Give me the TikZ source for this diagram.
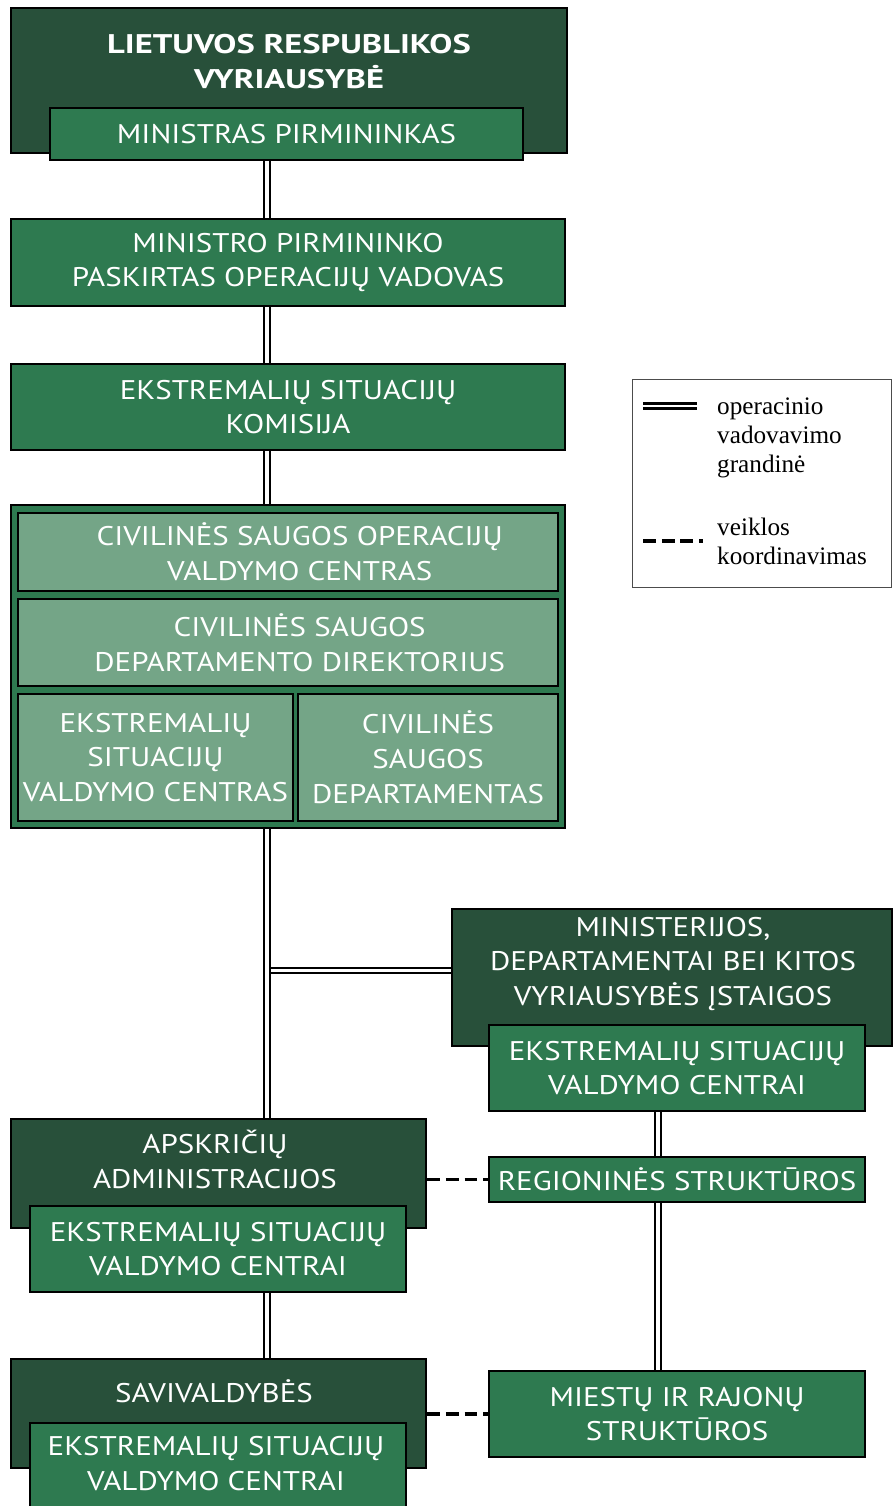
\documentclass[tikz,border=0pt]{standalone}
\usepackage{fontspec}
\setmainfont{PT Sans}[FakeStretch=1.15, BoldFeatures={FakeStretch=1.28}]
\newfontfamily\legendserif{Liberation Serif}
\usetikzlibrary{positioning, calc}
\definecolor{ltdark}{RGB}{40,80,58}
\definecolor{ltgreen}{RGB}{46,122,80}
\definecolor{ltpale}{RGB}{116,165,135}
\newcommand{\orgfont}{\fontsize{23}{29.8}\selectfont}
\newcommand{\legfont}{\fontsize{21.5}{24.6}\selectfont}
\tikzset{
  %% ---- boxes ----
  wh/.style 2 args = {minimum width=#1*0.03cm, minimum height=#2*0.03cm},
  darkbox/.style  = {rectangle, draw=black, line width=1.8pt, fill=ltdark,
                     anchor=north west, inner sep=0pt},
  greenbox/.style = {rectangle, draw=black, line width=1.8pt, fill=ltgreen,
                     anchor=north west, inner sep=0pt, text=white,
                     align=center, font=\orgfont},
  palebox/.style  = {rectangle, draw=black, line width=1.8pt, fill=ltpale,
                     anchor=north west, inner sep=0pt, text=white,
                     align=center, font=\orgfont},
  boxtext/.style  = {text=white, align=center, inner sep=0pt, font=\orgfont},
  legendtext/.style = {anchor=west, align=left, inner sep=0pt, font=\legfont\legendserif},
  %% ---- lines ----
  chain/.style = {draw=black, line width=1.9pt, double=white, double distance=2.6pt},
  coord/.style = {draw=black, line width=2.8pt, dash pattern=on 11pt off 5pt},
}
\begin{document}
\begin{tikzpicture}[x=0.03cm, y=-0.03cm]
\useasboundingbox (0,0) rectangle (892,1506);
\coordinate (trunk) at (267,0);
\coordinate (branch) at (658,0);
% government
\node[darkbox, wh={556}{145}] (gov) at (10,7) {};
\node[boxtext, font=\orgfont\bfseries] (govtxt) at (289,61.5) {LIETUVOS RESPUBLIKOS\\VYRIAUSYBĖ};
\node[greenbox, wh={473}{52}] (pm) at (49,107) {MINISTRAS PIRMININKAS};
\node[greenbox, wh={554}{87}] (opvad) at (10,218) {MINISTRO PIRMININKO\\PASKIRTAS OPERACIJŲ VADOVAS};
\node[greenbox, wh={554}{86}] (esk) at (10,363) {EKSTREMALIŲ SITUACIJŲ\\KOMISIJA};
% civil protection block
\node[greenbox, wh={554}{323}] (csd) at (10,504) {};
\node[palebox, wh={540}{78}] (csovc) at (17,512) {\hspace*{0.7cm}CIVILINĖS SAUGOS OPERACIJŲ\\\hspace*{0.7cm}VALDYMO CENTRAS};
\node[palebox, wh={540}{87}] (csdir) at (17,598) {\hspace*{0.7cm}CIVILINĖS SAUGOS\\\hspace*{0.7cm}DEPARTAMENTO DIREKTORIUS};
\node[palebox, wh={275}{127}] (esvc) at (17,693) {EKSTREMALIŲ\\SITUACIJŲ\\VALDYMO CENTRAS};
\node[palebox, wh={260}{127}] (csdep) at (297,693) {CIVILINĖS\\SAUGOS\\DEPARTAMENTAS};
% ministries
\node[darkbox, wh={440}{137}] (min) at (451,908) {};
\node[boxtext] (mintxt) at (673,964) {MINISTERIJOS,\\DEPARTAMENTAI BEI KITOS\\VYRIAUSYBĖS ĮSTAIGOS};
\node[greenbox, wh={376}{86}] (minvc) at (488,1024) {EKSTREMALIŲ SITUACIJŲ\\VALDYMO CENTRAI};
\node[greenbox, wh={376}{45}] (reg) at (488,1156) {REGIONINĖS STRUKTŪROS};
\node[greenbox, wh={376}{86}] (mr) at (488,1370) {MIESTŲ IR RAJONŲ\\STRUKTŪROS};
% counties and municipalities
\node[darkbox, wh={415}{109}] (aps) at (10,1118) {};
\node[boxtext] (apstxt) at (215,1159.5) {APSKRIČIŲ\\ADMINISTRACIJOS};
\node[greenbox, wh={376}{86}] (apsvc) at (29,1205) {EKSTREMALIŲ SITUACIJŲ\\VALDYMO CENTRAI};
\node[darkbox, wh={415}{109}] (sav) at (10,1358) {};
\node[boxtext] (savtxt) at (214,1391) {SAVIVALDYBĖS};
\node[greenbox, wh={376}{100}] (savvc) at (29,1422) {};
\node[boxtext] (savvctxt) at (216,1463.5) {EKSTREMALIŲ SITUACIJŲ\\VALDYMO CENTRAI};
% legend
\node[rectangle, draw=black!70, line width=1.2pt, fill=white, anchor=north west,
      wh={259}{208}] (legend) at (632,379) {};
\coordinate (chainA) at (643,406);
\coordinate (chainB) at (697,406);
\coordinate (coordA) at (643,541);
\coordinate (coordB) at (703,541);
\node[legendtext] (legchain) at (717,438) {operacinio\\vadovavimo\\grandinė};
\node[legendtext] (legcoord) at (717,541.5) {veiklos\\koordinavimas};
\draw[chain, line width=2pt, double distance=2pt] (chainA) -- (chainB);
\draw[coord] (coordA) -- (coordB);
% operational chain
\draw[chain] (pm.south -| trunk) -- (opvad.north -| trunk);
\draw[chain] (opvad.south -| trunk) -- (esk.north -| trunk);
\draw[chain] (esk.south -| trunk) -- (csd.north -| trunk);
\draw[chain] (trunk |- {$(min.north west)!0.45!(min.south west)$}) -- ($(min.north west)!0.45!(min.south west)$);
\draw[chain] (csd.south -| trunk) -- (aps.north -| trunk);
\draw[chain] (apsvc.south -| trunk) -- (sav.north -| trunk);
\draw[chain] (minvc.south -| branch) -- (reg.north -| branch);
\draw[chain] (reg.south -| branch) -- (mr.north -| branch);
% coordination
\draw[coord] (aps.east |- reg.west) -- (reg.west);
\draw[coord] (sav.east |- mr.west) -- (mr.west);
\end{tikzpicture}
\end{document}
